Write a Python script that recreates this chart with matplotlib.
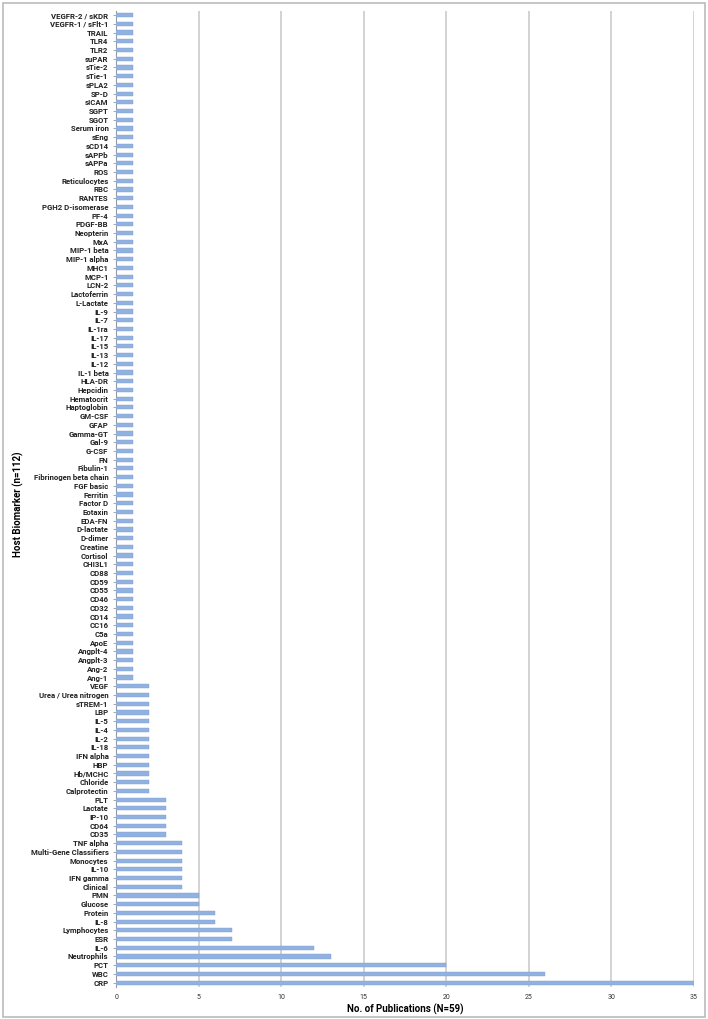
import matplotlib
matplotlib.use('Agg')
import matplotlib.pyplot as plt
from matplotlib.patches import Rectangle

# biomarkers, bottom to top
multi = ['CRP', 'WBC', 'PCT', 'Neutrophils', 'IL-6', 'ESR', 'Lymphocytes', 'IL-8',
         'Protein', 'Glucose', 'PMN', 'Clinical', 'IFN gamma', 'IL-10', 'Monocytes',
         'Multi-Gene Classifiers', 'TNF alpha', 'CD35', 'CD64', 'IP-10', 'Lactate', 'PLT',
         'Calprotectin', 'Chloride', 'Hb/MCHC', 'HBP', 'IFN alpha', 'IL-18', 'IL-2', 'IL-4',
         'IL-5', 'LBP', 'sTREM-1', 'Urea / Urea nitrogen', 'VEGF']
multi_counts = [35, 26, 20, 13, 12, 7, 7, 6, 6, 5, 5, 4, 4, 4, 4, 4, 4, 3, 3, 3, 3, 3,
                2, 2, 2, 2, 2, 2, 2, 2, 2, 2, 2, 2, 2]
single = ['Ang-1', 'Ang-2', 'Angplt-3', 'Angplt-4', 'ApoE', 'C5a', 'CC16', 'CD14', 'CD32',
          'CD46', 'CD55', 'CD59', 'CD88', 'CHI3L1', 'Cortisol', 'Creatine', 'D-dimer',
          'D-lactate', 'EDA-FN', 'Eotaxin', 'Factor D', 'Ferritin', 'FGF basic',
          'Fibrinogen beta chain', 'Fibulin-1', 'FN', 'G-CSF', 'Gal-9', 'Gamma-GT', 'GFAP',
          'GM-CSF', 'Haptoglobin', 'Hematocrit', 'Hepcidin', 'HLA-DR', 'IL-1 beta', 'IL-12',
          'IL-13', 'IL-15', 'IL-17', 'IL-1ra', 'IL-7', 'IL-9', 'L-Lactate', 'Lactoferrin',
          'LCN-2', 'MCP-1', 'MHC1', 'MIP-1 alpha', 'MIP-1 beta', 'MxA', 'Neopterin',
          'PDGF-BB', 'PF-4', 'PGH2 D-isomerase', 'RANTES', 'RBC', 'Reticulocytes', 'ROS',
          'sAPPa', 'sAPPb', 'sCD14', 'sEng', 'Serum iron', 'SGOT', 'SGPT', 'sICAM', 'SP-D',
          'sPLA2', 'sTie-1', 'sTie-2', 'suPAR', 'TLR2', 'TLR4', 'TRAIL', 'VEGFR-1 / sFlt-1',
          'VEGFR-2 / sKDR']
single_counts = [1] * len(single)

labels = multi + single
counts = multi_counts + single_counts
x_ticks = [0, 5, 10, 15, 20, 25, 30, 35]

plt.rcParams['font.family'] = ['Roboto', 'DejaVu Sans']

fig = plt.figure(figsize=(7.08, 10.19), dpi=100)
fig.patches.append(Rectangle((0.004, 0.002), 0.992, 0.995, transform=fig.transFigure,
                             fill=False, edgecolor='#bbbbbb', linewidth=1.2))
ax = fig.add_axes([0.164, 0.0314, 0.816, 0.958])

ypos = list(range(len(labels)))
ax.barh(ypos, counts, height=0.48, color='#91b1e0', edgecolor='#7f9fd3', linewidth=0.3, zorder=3)

ax.set_ylim(-0.5, len(labels) - 0.5)
ax.set_xlim(0, 35)
ax.set_yticks(ypos)
ax.set_yticklabels(labels, fontsize=5.6, fontweight='bold', color='#222222')
ax.set_xticks(x_ticks)
ax.set_xticklabels([str(t) for t in x_ticks], fontsize=5, color='#333333')
ax.tick_params(axis='y', length=2.5, width=0.6, color='#999999', pad=3)
ax.tick_params(axis='x', length=0, pad=5)
ax.grid(axis='x', color='#c8c8c8', linewidth=1.1, zorder=0)
for s in ['top', 'bottom', 'right']:
    ax.spines[s].set_visible(False)
ax.spines['left'].set_color('#999999')
ax.spines['left'].set_linewidth(0.8)

ax.set_xlabel('No. of Publications (N=59)', fontsize=7, fontweight='bold', labelpad=2)
fig.text(0.026, 0.505, 'Host Biomarker (n=112)', rotation=90, fontsize=7,
         fontweight='bold', ha='center', va='center')

fig.savefig('out.png', dpi=100)
